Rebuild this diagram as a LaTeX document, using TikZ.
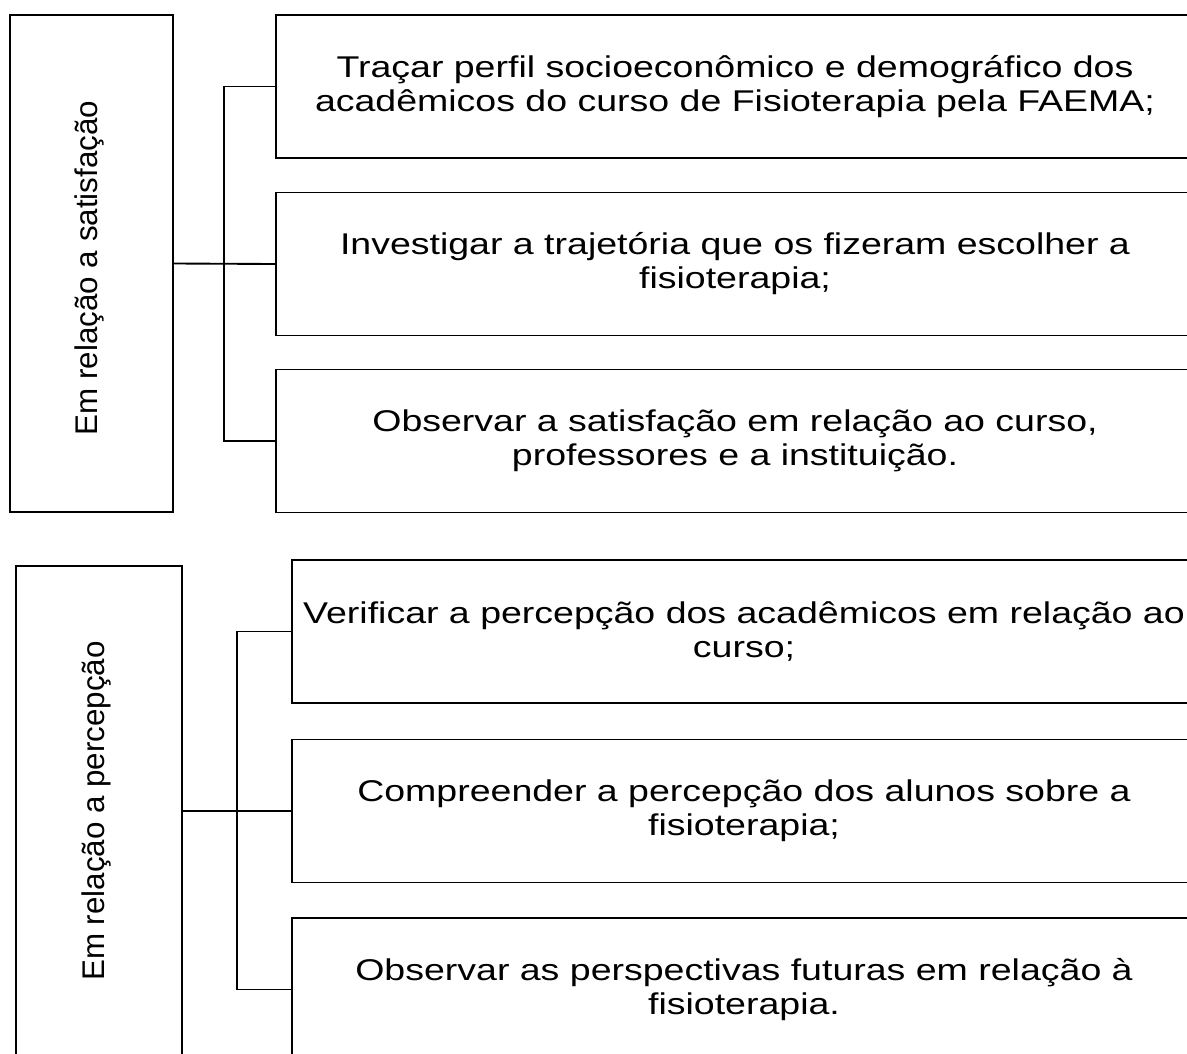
\documentclass[tikz,border=0pt]{standalone}
\usepackage{graphicx}
\usepackage{fontspec}
\setmainfont[FakeStretch=1.25]{Liberation Sans}
\newfontfamily\rotfont{Liberation Sans}
\begin{document}
\begin{tikzpicture}[x=0.75pt,y=-0.75pt,
  every node/.style={inner sep=0pt,outer sep=0pt},
  rbox/.style={draw,line width=1.4pt,minimum width=688.5pt,minimum height=107.25pt,align=center,
    font=\fontsize{22.5}{25.5}\selectfont},
  rboxb/.style={rbox,minimum width=678pt},
  lbox/.style={draw,line width=1.4pt,minimum width=122.25pt,minimum height=372.75pt},
  ltext/.style={rotate=90,font=\rotfont\fontsize{23.5}{28}\selectfont},
  conn/.style={line width=1.4pt}]
\useasboundingbox (0,0) rectangle (1187,1053);
\clip (0,0) rectangle (1187,1053);
\fill[white] (0,0) rectangle (1187,1053);
% top section
\node[lbox] (L1) at (91.5,263.5) {};
\node[ltext] (L1t) at (89,268) {Em relação a satisfação};
\node[rbox] (R1) at (735,86.5) {Traçar perfil socioeconômico e demográfico dos\\acadêmicos do curso de Fisioterapia pela FAEMA;};
\node[rbox] (R2) at (735,264) {Investigar a trajetória que os fizeram escolher a\\fisioterapia;};
\node[rbox] (R3) at (735,441) {Observar a satisfação em relação ao curso,\\professores e a instituição.};
\coordinate (b1) at (224,0);
\draw[conn] (L1.east) -- (R2.west);
\draw[conn] (R1.west) -- (R1.west -| b1) -- (R3.west -| b1) -- (R3.west);
% bottom section
\node[lbox,minimum width=124.5pt,minimum height=367.5pt] (L2) at (99,811) {};
\node[ltext] (L2t) at (96,811) {Em relação a percepção};
\node[rboxb] (S1) at (744,631.5) {Verificar a percepção dos acadêmicos em relação ao\\curso;};
\node[rboxb] (S2) at (744,811) {Compreender a percepção dos alunos sobre a\\fisioterapia;};
\node[rboxb] (S3) at (744,989.5) {Observar as perspectivas futuras em relação à\\fisioterapia.};
\coordinate (b2) at (237,0);
\draw[conn] (L2.east) -- (S2.west);
\draw[conn] (S1.west) -- (S1.west -| b2) -- (S3.west -| b2) -- (S3.west);
\end{tikzpicture}
\end{document}
